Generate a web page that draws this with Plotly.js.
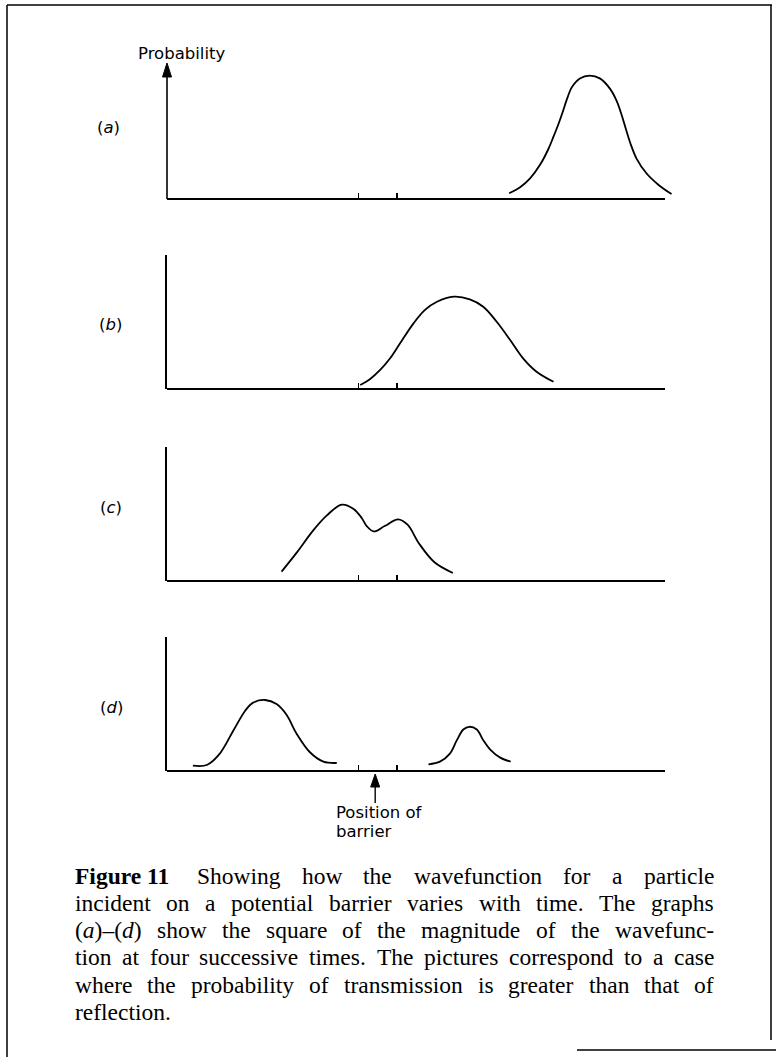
<!DOCTYPE html>
<html><head><meta charset="utf-8">
<script src="https://cdn.plot.ly/plotly-3.0.1.min.js"></script>
<style>html,body{margin:0;padding:0;background:#fff}</style>
</head><body><div id="chart" style="width:776px;height:1057px"></div>
<script>
// ---- data (arbitrary units: position x, probability y) ----
const panelLabels = ['(<i>a</i>)', '(<i>b</i>)', '(<i>c</i>)', '(<i>d</i>)'];
const barrierTicks = [38.4, 46.2];
const barrierPos = 41.8;

const aX = [68.7, 70.9, 72.9, 74.9, 76.6, 77.6, 78.6, 79.5, 80.3, 81.3, 82.9, 84.9, 86.9, 89.0, 90.3, 91.3, 92.2, 93.0, 94.3, 96.3, 98.7, 101.3];
const aY = [0.043, 0.088, 0.154, 0.255, 0.375, 0.465, 0.56, 0.655, 0.745, 0.835, 0.90, 0.92, 0.90, 0.82, 0.73, 0.625, 0.515, 0.42, 0.30, 0.19, 0.105, 0.037];

const bX = [38.8, 40.8, 42.8, 44.8, 46.8, 49.5, 51.8, 54.2, 57.6, 60.8, 63.5, 66.2, 68.9, 71.5, 74.2, 77.6];
const bY = [0.03, 0.075, 0.142, 0.229, 0.341, 0.49, 0.59, 0.651, 0.689, 0.669, 0.614, 0.502, 0.366, 0.229, 0.129, 0.054];

const cX = [23.0, 26.0, 29.4, 32.1, 35.1, 37.4, 39.1, 40.1, 41.5, 43.7, 46.4, 48.3, 50.6, 53.7, 57.4];
const cY = [0.07, 0.21, 0.38, 0.49, 0.57, 0.54, 0.47, 0.41, 0.37, 0.41, 0.46, 0.42, 0.28, 0.14, 0.06];

const dReflX = [5.2, 8.0, 10.6, 13.3, 15.7, 17.3, 19.7, 22.0, 24.0, 26.0, 28.7, 31.4, 34.1];
const dReflY = [0.04, 0.045, 0.13, 0.30, 0.45, 0.51, 0.53, 0.50, 0.42, 0.28, 0.14, 0.07, 0.06];

const dTransX = [52.5, 54.8, 56.8, 58.2, 59.5, 60.7, 62.2, 63.5, 64.9, 66.9, 69.0];
const dTransY = [0.05, 0.07, 0.13, 0.23, 0.31, 0.33, 0.31, 0.23, 0.16, 0.10, 0.07];

const captionLines = [
  '<b>Figure\u00a011</b>  Showing how the wavefunction for a particle',
  'incident on a potential barrier varies with time. The graphs',
  '(<i>a</i>)\u2013(<i>d</i>) show the square of the magnitude of the wavefunc-',
  'tion at four successive times. The pictures correspond to a case',
  'where the probability of transmission is greater than that of',
  'reflection.'
];

// ---- layout geometry (pixels) ----
const W = 776, H = 1057;
const X = px => px / W;
const Y = py => 1 - py / H;
const axisPx = [199, 389, 581, 771];
const panelH = 134;
const x0px = 167, x1px = 680, axisEndPx = 665;
const labelPos = [[108, 127], [110, 325], [111, 507], [112, 707]];

const LINE = {color: '#000', width: 1.8, shape: 'spline', smoothing: 1};
const traces = [
  {x: aX, y: aY, xaxis: 'x', yaxis: 'y'},
  {x: bX, y: bY, xaxis: 'x2', yaxis: 'y2'},
  {x: cX, y: cY, xaxis: 'x3', yaxis: 'y3'},
  {x: dReflX, y: dReflY, xaxis: 'x4', yaxis: 'y4'},
  {x: dTransX, y: dTransY, xaxis: 'x4', yaxis: 'y4'}
].map(t => Object.assign(t, {type: 'scatter', mode: 'lines', line: LINE, hoverinfo: 'skip', showlegend: false}));

const layout = {
  width: W, height: H,
  margin: {l: 0, r: 0, t: 0, b: 0, pad: 0},
  paper_bgcolor: '#fff', plot_bgcolor: 'rgba(0,0,0,0)',
  showlegend: false,
  shapes: [], annotations: []
};

const FONT_LBL = {family: 'DejaVu Sans', size: 16.5, color: '#000'};
const CAP_SIZE = 23.5, CAP_FAMILY = 'Liberation Serif';
const FONT_CAP = {family: CAP_FAMILY, size: CAP_SIZE, color: '#000'};

for (let i = 0; i < 4; i++) {
  const s = i === 0 ? '' : String(i + 1);
  layout['xaxis' + s] = {
    domain: [X(x0px), X(x1px)], range: [0, 103], anchor: 'y' + s,
    showline: false, showgrid: false, zeroline: false,
    ticks: 'inside', ticklen: 6, tickwidth: 1.3, tickcolor: '#000',
    tickmode: 'array', tickvals: barrierTicks, showticklabels: false, fixedrange: true
  };
  layout['yaxis' + s] = {
    domain: [Y(axisPx[i]), Y(axisPx[i] - panelH)], range: [0, 1], anchor: 'x' + s,
    showline: i !== 0, linecolor: '#000', linewidth: 1.6,
    showgrid: false, zeroline: false, ticks: '', showticklabels: false, fixedrange: true
  };
  layout.shapes.push({type: 'line', xref: 'paper', yref: 'paper',
    x0: X(x0px), x1: X(axisEndPx), y0: Y(axisPx[i]), y1: Y(axisPx[i]),
    line: {color: '#000', width: 1.8}});
  layout.annotations.push({xref: 'paper', yref: 'paper', x: X(labelPos[i][0]), y: Y(labelPos[i][1]),
    xanchor: 'center', yanchor: 'middle', showarrow: false, text: panelLabels[i], font: FONT_LBL});
}

// probability axis with arrow (panel a)
layout.shapes.push({type: 'line', xref: 'paper', yref: 'paper',
  x0: X(x0px), x1: X(x0px), y0: Y(199), y1: Y(76), line: {color: '#000', width: 1.6}});
layout.shapes.push({type: 'path', xref: 'paper', yref: 'paper',
  path: `M${X(x0px - 4.5)},${Y(77)} L${X(x0px + 4.5)},${Y(77)} L${X(x0px)},${Y(63)} Z`,
  fillcolor: '#000', line: {color: '#000', width: 1}});
layout.annotations.push({xref: 'paper', yref: 'paper', x: X(181), y: Y(53),
  xanchor: 'center', yanchor: 'middle', showarrow: false, text: 'Probability', font: FONT_LBL});

// barrier arrow (panel d)
const bpx = x0px + barrierPos * (x1px - x0px) / 103;
layout.shapes.push({type: 'line', xref: 'paper', yref: 'paper',
  x0: X(bpx), x1: X(bpx), y0: Y(785), y1: Y(803), line: {color: '#000', width: 1.4}});
layout.shapes.push({type: 'path', xref: 'paper', yref: 'paper',
  path: `M${X(bpx - 4.5)},${Y(787)} L${X(bpx + 4.5)},${Y(787)} L${X(bpx)},${Y(774)} Z`,
  fillcolor: '#000', line: {color: '#000', width: 1}});
layout.annotations.push({xref: 'paper', yref: 'paper', x: X(334), y: Y(812),
  xanchor: 'left', yanchor: 'middle', showarrow: false, text: 'Position of', font: FONT_LBL});
layout.annotations.push({xref: 'paper', yref: 'paper', x: X(334), y: Y(831),
  xanchor: 'left', yanchor: 'middle', showarrow: false, text: 'barrier', font: FONT_LBL});

// caption: justified, word by word
const ctx = document.createElement('canvas').getContext('2d');
function measure(markup) {
  let w = 0, bold = false, ital = false;
  markup.split(/(<\/?[bi]>)/).forEach(tok => {
    if (tok === '<b>') bold = true; else if (tok === '</b>') bold = false;
    else if (tok === '<i>') ital = true; else if (tok === '</i>') ital = false;
    else if (tok) {
      ctx.font = (ital ? 'italic ' : '') + (bold ? 'bold ' : '') + CAP_SIZE + 'px "' + CAP_FAMILY + '"';
      w += ctx.measureText(tok).width;
    }
  });
  return w;
}
const capY = [876, 903, 930, 957, 985, 1012];
const capLeft = 74, capRight = 713, extraGap = 6;
captionLines.forEach((line, k) => {
  const toks = line.split(' ');
  const words = [];
  let extra = 0;
  toks.forEach(t => { if (t === '') { extra += extraGap; } else { words.push({t, w: measure(t), extra}); extra = 0; } });
  const justify = k < captionLines.length - 1;
  const total = words.reduce((s, w) => s + w.w + w.extra, 0);
  const gap = justify ? (capRight - capLeft - total) / (words.length - 1) : measure(' ');
  let x = capLeft;
  words.forEach((w, j) => {
    if (j > 0) x += gap + w.extra;
    layout.annotations.push({xref: 'paper', yref: 'paper', x: X(x - 1), y: Y(capY[k]),
      xanchor: 'left', yanchor: 'middle', showarrow: false, text: w.t, font: FONT_CAP});
    x += w.w;
  });
});

// page frame
const frame = [[7, 5, 772, 5], [7, 5, 7, 1057], [771, 5, 771, 1040], [577, 1050, 776, 1050]];
frame.forEach(f => layout.shapes.push({type: 'line', xref: 'paper', yref: 'paper',
  x0: X(f[0]), y0: Y(f[1]), x1: X(f[2]), y1: Y(f[3]), line: {color: '#000', width: 1.5}}));

Plotly.newPlot('chart', traces, layout, {staticPlot: true, displayModeBar: false});
</script></body></html>
